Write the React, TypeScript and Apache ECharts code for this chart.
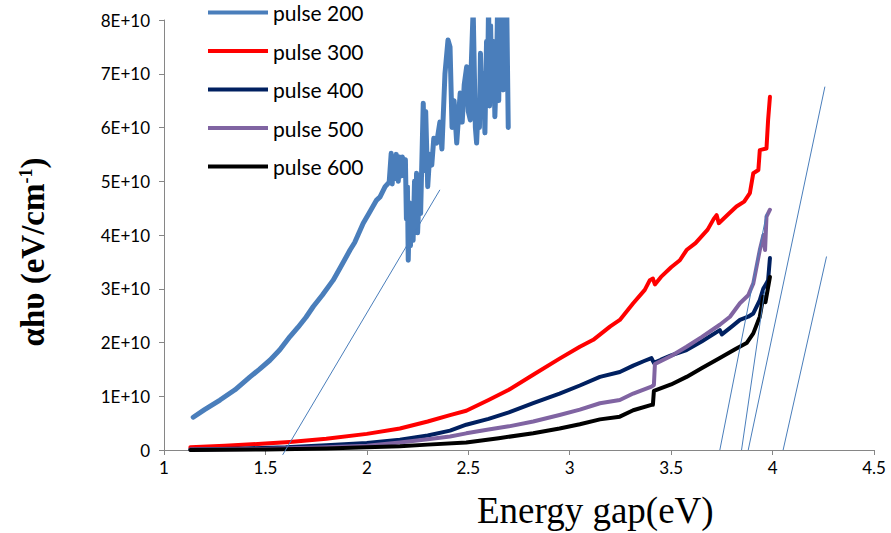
import React, { useEffect, useRef } from "react";
import * as echarts from "echarts";

// Absorption edge data: [photon energy (eV), αhυ in units of 1E+10]
const UNIT = 1e10;

const pulse200: [number, number][] = [
  [1.144, 0.61], [1.2, 0.75], [1.276, 0.93], [1.35, 1.12], [1.424, 1.36], [1.47, 1.5],
  [1.522, 1.67], [1.57, 1.86], [1.621, 2.11], [1.66, 2.28], [1.7, 2.47], [1.736, 2.67],
  [1.78, 2.88], [1.834, 3.16], [1.87, 3.4], [1.917, 3.72], [1.94, 3.86], [1.982, 4.22],
  [2.01, 4.4], [2.048, 4.65], [2.065, 4.71], [2.09, 4.9], [2.11, 4.98], [2.12, 5.52],
  [2.125, 4.95], [2.13, 5.45], [2.14, 5.05], [2.145, 5.5], [2.155, 5.0], [2.16, 5.45],
  [2.17, 5.1], [2.175, 5.45], [2.185, 5.3], [2.19, 5.4], [2.195, 4.3], [2.2, 4.9],
  [2.204, 3.53], [2.21, 4.6], [2.215, 3.8], [2.22, 4.5], [2.228, 3.9], [2.235, 5.0],
  [2.24, 4.2], [2.245, 5.15], [2.25, 4.04], [2.258, 4.8], [2.265, 4.4], [2.27, 5.2],
  [2.278, 6.45], [2.285, 5.2], [2.29, 6.3], [2.3, 4.9], [2.31, 5.5], [2.32, 5.3],
  [2.33, 5.8], [2.344, 5.71], [2.36, 6.1], [2.37, 5.6], [2.385, 7.0], [2.4, 7.63],
  [2.41, 7.5], [2.42, 6.0], [2.43, 6.5], [2.443, 5.71], [2.46, 6.64], [2.47, 6.1],
  [2.48, 6.8], [2.492, 7.13], [2.5, 6.3], [2.51, 6.14], [2.515, 7.2], [2.524, 8.2],
  [2.53, 7.0], [2.535, 6.0], [2.541, 5.71], [2.55, 6.5], [2.555, 6.0], [2.56, 7.38],
  [2.565, 6.6], [2.57, 6.2], [2.575, 7.0], [2.582, 5.9], [2.59, 7.6], [2.595, 6.8],
  [2.6, 8.3], [2.605, 6.4], [2.61, 7.9], [2.615, 6.9], [2.62, 6.6], [2.625, 7.6],
  [2.631, 6.2], [2.64, 7.2], [2.645, 8.4], [2.65, 6.5], [2.655, 7.8], [2.66, 8.2],
  [2.667, 6.9], [2.672, 6.7], [2.68, 8.3], [2.685, 7.0], [2.69, 8.1], [2.697, 6.0],
];

const pulse300: [number, number][] = [
  [1.13, 0.05], [1.3, 0.08], [1.5, 0.12], [1.62, 0.15], [1.8, 0.21], [2.0, 0.3],
  [2.163, 0.4], [2.3, 0.53], [2.41, 0.65], [2.49, 0.73], [2.6, 0.93], [2.7, 1.12],
  [2.82, 1.4], [2.95, 1.7], [3.05, 1.92], [3.116, 2.05], [3.2, 2.3], [3.247, 2.42],
  [3.313, 2.73], [3.37, 2.98], [3.395, 3.16], [3.41, 3.19], [3.42, 3.08], [3.45, 3.22],
  [3.5, 3.4], [3.543, 3.53], [3.576, 3.72], [3.62, 3.85], [3.68, 4.1], [3.71, 4.3],
  [3.724, 4.37], [3.735, 4.22], [3.78, 4.38], [3.822, 4.53], [3.86, 4.62], [3.888, 4.78],
  [3.905, 5.15], [3.93, 5.21], [3.937, 5.58], [3.97, 5.61], [3.978, 6.14], [3.987, 6.57],
];

const pulse400: [number, number][] = [
  [1.13, 0.01], [1.4, 0.03], [1.6, 0.05], [1.8, 0.09], [2.0, 0.13], [2.163, 0.19],
  [2.3, 0.27], [2.41, 0.36], [2.49, 0.47], [2.6, 0.58], [2.7, 0.7], [2.82, 0.87],
  [2.95, 1.05], [3.05, 1.2], [3.149, 1.36], [3.247, 1.45], [3.313, 1.57], [3.37, 1.66],
  [3.403, 1.71], [3.415, 1.62], [3.45, 1.68], [3.5, 1.76], [3.576, 1.86], [3.65, 2.02],
  [3.74, 2.23], [3.75, 2.15], [3.8, 2.3], [3.839, 2.42], [3.88, 2.48], [3.905, 2.54],
  [3.937, 2.79], [3.954, 3.0], [3.97, 3.1], [3.978, 3.16], [3.987, 3.57],
];

const pulse500: [number, number][] = [
  [1.13, 0.01], [1.5, 0.02], [1.8, 0.05], [2.0, 0.08], [2.163, 0.14], [2.3, 0.2],
  [2.41, 0.25], [2.49, 0.31], [2.6, 0.38], [2.7, 0.44], [2.82, 0.53], [2.95, 0.65],
  [3.05, 0.75], [3.149, 0.87], [3.247, 0.93], [3.313, 1.05], [3.403, 1.18], [3.415, 1.21],
  [3.42, 1.6], [3.5, 1.75], [3.576, 1.92], [3.65, 2.1], [3.74, 2.33], [3.79, 2.48],
  [3.839, 2.73], [3.88, 2.88], [3.905, 3.1], [3.937, 3.72], [3.955, 4.0], [3.963, 3.72],
  [3.97, 4.34], [3.987, 4.47],
];

const pulse600: [number, number][] = [
  [1.13, 0.0], [1.5, 0.01], [1.8, 0.03], [2.0, 0.05], [2.163, 0.07], [2.3, 0.1],
  [2.49, 0.14], [2.65, 0.22], [2.82, 0.31], [2.95, 0.4], [3.05, 0.48], [3.149, 0.57],
  [3.247, 0.62], [3.313, 0.74], [3.403, 0.84], [3.41, 0.84], [3.415, 1.1], [3.5, 1.22],
  [3.576, 1.36], [3.65, 1.52], [3.74, 1.71], [3.822, 1.89], [3.872, 1.99], [3.905, 2.17],
  [3.937, 2.48], [3.954, 2.85], [3.965, 2.75], [3.987, 3.22],
];

// Linear extrapolations of the absorption edges down to the energy axis
const tangentLines: [number, number][][] = [
  [[1.585, -0.09], [2.36, 4.84]],
  [[3.74, 0], [3.97, 4.4]],
  [[3.847, 0], [3.962, 2.98]],
  [[3.88, 0], [4.258, 6.76]],
  [[4.052, 0], [4.266, 3.6]],
];

const seriesNames = ["pulse 200", "pulse 300", "pulse 400", "pulse 500", "pulse 600"];
const seriesData = [pulse200, pulse300, pulse400, pulse500, pulse600];
const seriesColors = ["#4a7ebb", "#ff0000", "#002060", "#8064a2", "#000000"];
const seriesWidths = [5, 4, 4, 4, 4];

const toData = (pts: [number, number][]) => pts.map(([x, y]) => [x, y * UNIT]);

export default function App() {
  const ref = useRef<HTMLDivElement>(null);

  useEffect(() => {
    document.body.style.margin = "0";
    if (!ref.current) return;
    const chart = echarts.init(ref.current, undefined, { renderer: "svg" });

    const dataSeries = seriesNames.map((name, i) => ({
      name,
      type: "line",
      data: toData(seriesData[i]),
      showSymbol: false,
      symbol: "none",
      clip: true,
      lineStyle: { color: seriesColors[i], width: seriesWidths[i], join: "round", cap: "round" },
      itemStyle: { color: seriesColors[i] },
      z: 2 + i,
    }));

    const tangentSeries = tangentLines.map((pts, i) => ({
      name: `tangent-${i}`,
      type: "line",
      data: toData(pts),
      showSymbol: false,
      symbol: "none",
      clip: false,
      silent: true,
      lineStyle: { color: "#4a7ebb", width: 1 },
      z: 10,
    }));

    chart.setOption({
      animation: false,
      backgroundColor: "#ffffff",
      grid: { left: 164, right: 17, top: 20, bottom: 83, containLabel: false },
      legend: {
        data: seriesNames,
        orient: "vertical",
        left: 203,
        top: -3,
        itemWidth: 60,
        itemHeight: 4,
        itemGap: 17.5,
        icon: "rect",
        textStyle: { fontFamily: "Lato", fontSize: 21, color: "#000", lineHeight: 20 },
      },
      xAxis: {
        type: "value",
        min: 1,
        max: 4.5,
        interval: 0.5,
        axisLine: { show: true, lineStyle: { color: "#868686", width: 1 } },
        axisTick: { show: true, length: 5, inside: false, lineStyle: { color: "#868686" } },
        splitLine: { show: false },
        axisLabel: {
          fontFamily: "Lato",
          fontSize: 17,
          color: "#000",
          margin: 9,
          formatter: (v: number) => String(v),
        },
      },
      yAxis: {
        type: "value",
        min: 0,
        max: 8 * UNIT,
        interval: UNIT,
        axisLine: { show: true, lineStyle: { color: "#868686", width: 1 } },
        axisTick: { show: true, length: 5, inside: false, lineStyle: { color: "#868686" } },
        splitLine: { show: false },
        axisLabel: {
          fontFamily: "Lato",
          fontSize: 17,
          color: "#000",
          margin: 14,
          formatter: (v: number) => (v === 0 ? "0" : `${Math.round(v / UNIT)}E+10`),
        },
      },
      graphic: [
        {
          type: "text",
          left: 477,
          top: 492,
          style: {
            text: "Energy gap(eV)",
            font: "37px 'Liberation Serif', serif",
            fill: "#000",
          },
        },
        {
          type: "text",
          x: 33,
          y: 252,
          rotation: Math.PI / 2,
          style: {
            text: "αhυ (eV/cm{sup|-1})",
            fontFamily: "Liberation Serif",
            fontSize: 33,
            fontWeight: "bold",
            fill: "#000",
            align: "center",
            verticalAlign: "middle",
            rich: {
              sup: {
                fontFamily: "Liberation Serif",
                fontSize: 18,
                fontWeight: "bold",
                fill: "#000",
                verticalAlign: "top",
                padding: [0, 0, 15, 0],
              },
            },
          },
        },
      ],
      series: [...dataSeries, ...tangentSeries],
    });

    return () => chart.dispose();
  }, []);

  return <div ref={ref} style={{ width: 891, height: 533 }} />;
}
